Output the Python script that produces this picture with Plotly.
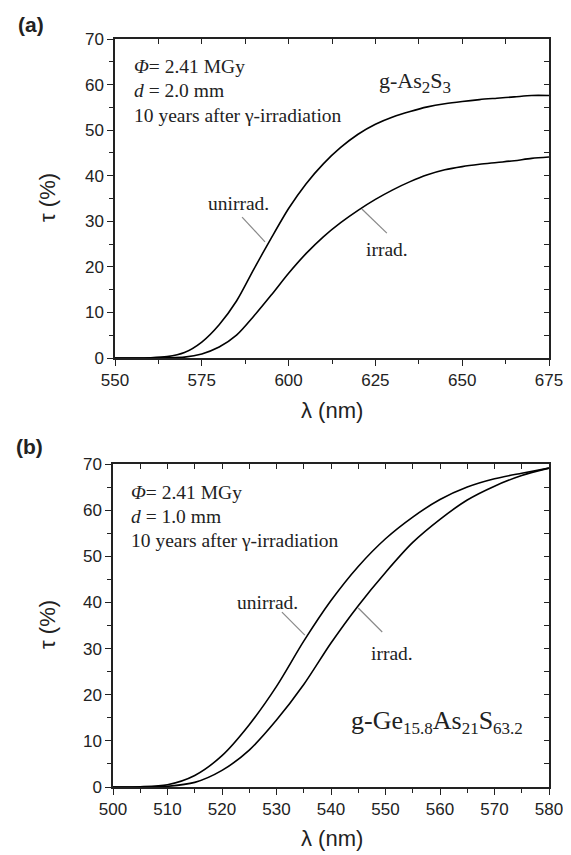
import plotly.graph_objects as go

# ---------------- data ----------------
# Panel (a): g-As2S3
lam_a = [550, 555, 560, 565, 570, 575, 580, 585, 590, 595, 600, 605, 610, 615, 620,
         625, 630, 635, 640, 645, 650, 655, 660, 665, 670, 675]
unirr_a = [0, 0, 0.05, 0.3, 1.2, 3.5, 7.3, 12.5, 19.5, 26.3, 32.8, 38.2, 42.6, 46.2, 49.1,
           51.3, 52.9, 54.1, 55.1, 55.8, 56.3, 56.7, 57.0, 57.3, 57.6, 57.6]
irr_a = [0, 0, 0, 0.05, 0.2, 0.9, 2.4, 5.0, 9.2, 13.8, 18.6, 22.9, 26.6, 29.7, 32.4,
         34.8, 36.9, 38.7, 40.2, 41.3, 42.0, 42.5, 42.9, 43.3, 43.8, 44.1]

# Panel (b): g-Ge15.8As21S63.2
lam_b = [500, 505, 510, 515, 520, 525, 530, 535, 540, 545, 550, 555, 560, 565, 570, 575, 580]
unirr_b = [0, 0.05, 0.5, 2.5, 6.8, 13.5, 21.8, 31.6, 40.4, 47.8, 53.8, 58.5, 62.3, 65.0, 66.8, 68.0, 69.1]
irr_b = [0, 0, 0.15, 1.0, 3.6, 8.0, 14.5, 22.2, 31.2, 39.3, 46.5, 53.0, 58.0, 62.2, 65.2, 67.5, 69.1]

xrange_a = [550, 675]
xrange_b = [500, 580]
yrange = [0, 70]

# page body has an 8px margin: size the figure so that it fills the window
OFF = 8
W, H = 571 - OFF, 855 - OFF

def px_x(p):
    return (p - OFF) / W

def px_y(p):
    return 1 - (p - OFF) / H

fig = go.Figure()

line = dict(color="black", width=1.6, shape="spline", smoothing=0.8)
fig.add_trace(go.Scatter(x=lam_a, y=unirr_a, mode="lines", line=line, xaxis="x", yaxis="y", showlegend=False))
fig.add_trace(go.Scatter(x=lam_a, y=irr_a, mode="lines", line=line, xaxis="x", yaxis="y", showlegend=False))
fig.add_trace(go.Scatter(x=lam_b, y=unirr_b, mode="lines", line=line, xaxis="x2", yaxis="y2", showlegend=False))
fig.add_trace(go.Scatter(x=lam_b, y=irr_b, mode="lines", line=line, xaxis="x2", yaxis="y2", showlegend=False))

tickfont = dict(family="Liberation Sans, Arial", size=17, color="#222")

dom_xa = [px_x(115), px_x(549)]
dom_ya = [px_y(358), px_y(39)]
dom_xb = [px_x(113), px_x(549)]
dom_yb = [px_y(787), px_y(464)]

def main_x(rng, dtick, dom, anchor):
    return dict(range=rng, domain=dom, anchor=anchor, dtick=dtick, tick0=rng[0],
                ticks="outside", ticklen=6, tickwidth=1.3, tickcolor="#222",
                minor=dict(dtick=dtick / 2, ticks="outside", ticklen=4, tickwidth=1.3, tickcolor="#222"),
                showline=True, linecolor="#222", linewidth=1.5, mirror=True,
                showgrid=False, zeroline=False, tickfont=tickfont)

def main_y(dom, anchor):
    return dict(range=yrange, domain=dom, anchor=anchor, dtick=10, tick0=0,
                ticks="outside", ticklen=6, tickwidth=1.3, tickcolor="#222",
                minor=dict(dtick=5, ticks="outside", ticklen=4, tickwidth=1.3, tickcolor="#222"),
                showline=True, linecolor="#222", linewidth=1.5, mirror=True,
                showgrid=False, zeroline=False, tickfont=tickfont)

def top_x(rng, dtick, overlay, anchor):
    return dict(range=rng, overlaying=overlay, side="top", anchor=anchor, dtick=dtick / 2, tick0=rng[0],
                ticks="inside", ticklen=5, tickwidth=1.3, tickcolor="#222",
                showticklabels=False, showline=False, showgrid=False, zeroline=False)

def right_y(overlay, anchor):
    return dict(range=yrange, overlaying=overlay, side="right", anchor=anchor, dtick=5, tick0=0,
                ticks="inside", ticklen=5, tickwidth=1.3, tickcolor="#222",
                showticklabels=False, showline=False, showgrid=False, zeroline=False)

fig.update_layout(
    width=W, height=H,
    margin=dict(l=0, r=0, t=0, b=0, autoexpand=False),
    paper_bgcolor="white", plot_bgcolor="white",
    xaxis=main_x(xrange_a, 25, dom_xa, "y"),
    yaxis=main_y(dom_ya, "x"),
    xaxis2=main_x(xrange_b, 10, dom_xb, "y2"),
    yaxis2=main_y(dom_yb, "x2"),
    xaxis3=top_x(xrange_a, 25, "x", "y3"),
    yaxis3=right_y("y", "x3"),
    xaxis4=top_x(xrange_b, 10, "x2", "y4"),
    yaxis4=right_y("y2", "x4"),
)

# invisible traces to activate the mirrored inward-tick axes
fig.add_trace(go.Scatter(x=[xrange_a[0]], y=[0], mode="markers", marker=dict(opacity=0),
                         xaxis="x3", yaxis="y3", showlegend=False, hoverinfo="skip"))
fig.add_trace(go.Scatter(x=[xrange_b[0]], y=[0], mode="markers", marker=dict(opacity=0),
                         xaxis="x4", yaxis="y4", showlegend=False, hoverinfo="skip"))

serif = "Liberation Serif, Times New Roman"
sans = "Liberation Sans, Arial"
ann = []

def pann(text, xp, yp, size, angle=0):
    ann.append(dict(text=text, x=px_x(xp), y=px_y(yp), xref="paper", yref="paper",
                    xanchor="center", yanchor="middle", textangle=angle, showarrow=False,
                    font=dict(family=sans, size=size, color="#222")))

# panel labels
pann("<b>(a)</b>", 31, 24, 21)
pann("<b>(b)</b>", 29, 446, 21)
# axis titles
pann("τ (%)", 47, 198, 22, angle=-90)
pann("τ (%)", 47, 625, 22, angle=-90)
pann("λ (nm)", 332, 410, 22)
pann("λ (nm)", 332, 838, 22)

tf = dict(family=serif, size=19.5, color="#222")

def dann(text, x, y, xr, yr, font, xanchor="center"):
    ann.append(dict(text=text, x=x, y=y, xref=xr, yref=yr, xanchor=xanchor, yanchor="middle",
                    showarrow=False, font=font))

def sub(t, size):
    return "<sub><span style='font-size:%dpx'>%s</span></sub>" % (size, t)

# panel (a) texts
for txt, yv in (("<i>Φ</i>= 2.41 MGy", 63.9), ("<i>d</i> = 2.0 mm", 58.6),
                ("10 years after γ-irradiation", 53.3)):
    dann(txt, 555.0, yv, "x", "y", tf, xanchor="left")
dann("g-As" + sub("2", 17) + "S" + sub("3", 17), 636.5, 60.5, "x", "y",
     dict(family=serif, size=22, color="#222"))
dann("unirrad.", 585.7, 34.0, "x", "y", tf)
dann("irrad.", 628.3, 23.7, "x", "y", tf)

# panel (b) texts
for txt, yv in (("<i>Φ</i>= 2.41 MGy", 63.9), ("<i>d</i> = 1.0 mm", 58.7),
                ("10 years after γ-irradiation", 53.5)):
    dann(txt, 503.0, yv, "x2", "y2", tf, xanchor="left")
dann("g-Ge" + sub("15.8", 17) + "As" + sub("21", 17) + "S" + sub("63.2", 17), 559.5, 14.0, "x2", "y2",
     dict(family=serif, size=26, color="#222"))
dann("unirrad.", 528.3, 39.9, "x2", "y2", tf)
dann("irrad.", 551.2, 29.0, "x2", "y2", tf)

fig.update_layout(annotations=ann)

# leader lines
lead = dict(color="#888", width=1.2)
fig.add_shape(type="line", x0=586.6, y0=30.9, x1=593.2, y1=25.5, xref="x", yref="y", line=lead)
fig.add_shape(type="line", x0=621.1, y0=32.7, x1=628.3, y1=27.4, xref="x", yref="y", line=lead)
fig.add_shape(type="line", x0=531.0, y0=37.9, x1=535.2, y1=32.9, xref="x2", yref="y2", line=lead)
fig.add_shape(type="line", x0=545.0, y0=38.8, x1=549.4, y1=33.6, xref="x2", yref="y2", line=lead)

fig.write_html("out.html")
